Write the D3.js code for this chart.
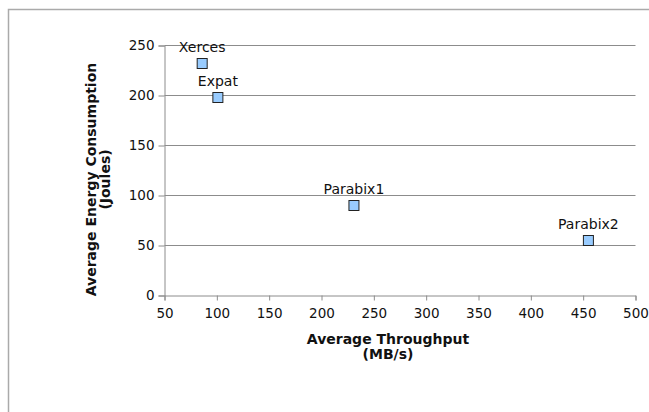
<!DOCTYPE html>
<html>
<head>
<meta charset="utf-8">
<script src="https://cdn.jsdelivr.net/npm/d3@7"></script>
<style>
  html, body { margin: 0; padding: 0; background: #fff; }
  svg { display: block; }
  text { font-family: "DejaVu Sans", sans-serif; }
</style>
</head>
<body>
<script>
// Parser energy vs. throughput
const parsers = ["Xerces", "Expat", "Parabix1", "Parabix2"];
const throughput = [86, 101, 231, 455];
const energy = [232, 198, 90, 55];
const xTicks = [50, 100, 150, 200, 250, 300, 350, 400, 450, 500];
const yTicks = [0, 50, 100, 150, 200, 250];

const W = 649, H = 412;
const svg = d3.select("body").append("svg").attr("width", W).attr("height", H);

// outer frame
svg.append("rect")
  .attr("x", 8.5).attr("y", 9.5).attr("width", W).attr("height", H)
  .attr("fill", "none").attr("stroke", "#aaa").attr("stroke-width", 1.5);

const plotLeft = 164.5, plotRight = 635.5, plotTop = 45.5, plotBottom = 295.5;
const x = d3.scaleLinear().domain([50, 500]).range([plotLeft, plotRight]);
const y = d3.scaleLinear().domain([0, 250]).range([plotBottom, plotTop]);

// horizontal gridlines
svg.append("g").selectAll("line").data(yTicks.filter(d => d > 0)).join("line")
  .attr("x1", plotLeft).attr("x2", plotRight)
  .attr("y1", d => y(d)).attr("y2", d => y(d))
  .attr("stroke", "#8c8c8c").attr("stroke-width", 1);

// y axis
const yAxis = svg.append("g").attr("transform", `translate(${plotLeft},0)`)
  .call(d3.axisLeft(y).tickValues(yTicks).tickSize(6).tickPadding(4));
// x axis
const xAxis = svg.append("g").attr("transform", `translate(0,${plotBottom})`)
  .call(d3.axisBottom(x).tickValues(xTicks).tickSize(5).tickPadding(8));

[yAxis, xAxis].forEach(g => {
  g.select(".domain").attr("stroke", "#8c8c8c");
  g.selectAll(".tick line").attr("stroke", "#8c8c8c");
  g.selectAll(".tick text").attr("font-size", 13.5).attr("fill", "#111")
    .attr("font-family", "DejaVu Sans, sans-serif");
});

// axis titles
const xt = svg.append("text").attr("text-anchor", "middle")
  .attr("font-size", 14).attr("font-weight", "bold").attr("fill", "#111");
xt.append("tspan").attr("x", 388).attr("y", 343.5).text("Average Throughput");
xt.append("tspan").attr("x", 388).attr("y", 359).text("(MB/s)");

const yt = svg.append("text").attr("text-anchor", "middle")
  .attr("font-size", 14).attr("font-weight", "bold").attr("fill", "#111")
  .attr("transform", "translate(0,179.5) rotate(-90)");
yt.append("tspan").attr("x", 0).attr("y", 95.5).text("Average  Energy Consumption");
yt.append("tspan").attr("x", 0).attr("y", 109.5).text("(Joules)");

// markers
const pts = parsers.map((name, i) => ({ name, tx: throughput[i], en: energy[i] }));
const s = 10;
svg.append("g").selectAll("rect").data(pts).join("rect")
  .attr("x", d => x(d.tx) - s / 2).attr("y", d => y(d.en) - s / 2)
  .attr("width", s).attr("height", s)
  .attr("fill", "#99ccff").attr("stroke", "#222").attr("stroke-width", 1);

// point labels
svg.append("g").selectAll("text").data(pts).join("text")
  .attr("x", d => x(d.tx)).attr("y", d => y(d.en) - 12)
  .attr("text-anchor", "middle").attr("font-size", 14).attr("fill", "#111")
  .text(d => d.name);
</script>
</body>
</html>
